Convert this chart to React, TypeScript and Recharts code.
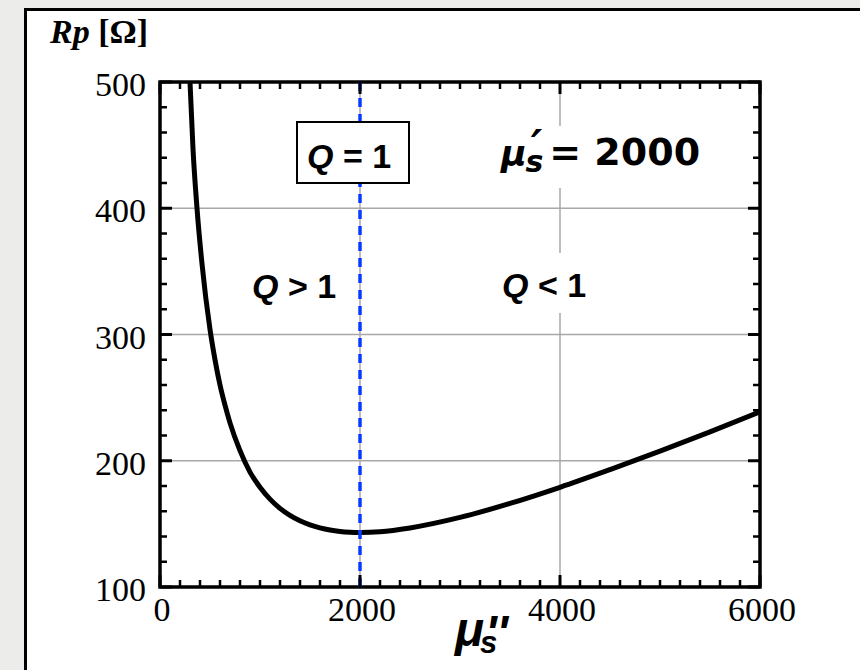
import React from "react";
import {
  LineChart,
  Line,
  XAxis,
  YAxis,
  ReferenceLine,
  ReferenceArea,
} from "recharts";

// values (mu_s'' vs Rp in ohm)
const muValues = [300, 330, 370, 420, 500, 550, 600, 650, 700, 800, 900, 1000, 1100, 1200, 1300, 1400, 1500, 1600, 1700, 1800, 1900, 2000, 2200, 2500, 3000, 3500, 4000, 4500, 5000, 5500, 6000];
const rpValues = [500, 447, 400, 356, 304, 280, 260, 244, 230, 208, 191, 179, 169.6, 162.3, 156.7, 152.4, 149.2, 146.8, 145.1, 144, 143.4, 143.2, 143.8, 146.8, 155.1, 166.2, 179, 193, 207.6, 222.9, 238.7];

const xLabelTicks = [0, 2000, 4000, 6000];
const yLabelTicks = [100, 200, 300, 400, 500];
const xGrid = [2000, 4000];
const yGrid = [200, 300, 400];
const qEqualsOne = 2000;

const xMinorTicks = Array.from({ length: 31 }, (_, i) => i * 200);
const yMinorTicks = Array.from({ length: 21 }, (_, i) => 100 + i * 20);

const data = muValues.map((mu, i) => ({ mu, rp: rpValues[i] }));

const W = 860;
const H = 670;
const Y_AXIS_W = 60;
const X_AXIS_H = 40;
const M = { top: 82, right: 100, bottom: 83 - X_AXIS_H, left: 160 - Y_AXIS_W };
const PLOT_W = 600;
const PLOT_H = 505;

const serif = "Liberation Serif";
const sans = "Liberation Sans";
const dejavu = "DejaVu Sans";

const XTick = (props: any) => {
  const { x, y, payload } = props;
  const v = payload.value;
  const major = xLabelTicks.includes(v);
  const len = major ? 12 : 7;
  const sw = major ? 3 : 2.5;
  return (
    <g>
      <line x1={x} x2={x} y1={y} y2={y - len} stroke="#000" strokeWidth={sw} />
      <line x1={x} x2={x} y1={y - PLOT_H} y2={y - PLOT_H + len} stroke="#000" strokeWidth={sw} />
      {major && (
        <text x={x + 2} y={y + 34} textAnchor="middle" fontFamily={serif} fontSize={34} fill="#000">
          {v}
        </text>
      )}
    </g>
  );
};

const YTick = (props: any) => {
  const { x, y, payload } = props;
  const v = payload.value;
  const major = yLabelTicks.includes(v);
  const len = major ? 12 : 7;
  const sw = major ? 3 : 2.5;
  return (
    <g>
      <line x1={x} x2={x + len} y1={y} y2={y} stroke="#000" strokeWidth={sw} />
      <line x1={x + PLOT_W} x2={x + PLOT_W - len} y1={y} y2={y} stroke="#000" strokeWidth={sw} />
      {major && (
        <text x={x - 14} y={y + 14} textAnchor="end" fontFamily={serif} fontSize={34} fill="#000">
          {v}
        </text>
      )}
    </g>
  );
};

export default function App() {
  return (
    <div
      style={{
        position: "absolute",
        left: 0,
        top: 0,
        width: W,
        height: H,
        background: "#ececea",
        overflow: "hidden",
      }}
    >
      <div
        style={{
          position: "absolute",
          left: 24,
          top: 8,
          width: 900,
          height: 700,
          background: "#fff",
          border: "3px solid #000",
        }}
      />
      <div style={{ position: "absolute", left: 0, top: 0 }}>
        <LineChart width={W} height={H} data={data} margin={M}>
          <XAxis
            type="number"
            dataKey="mu"
            domain={[0, 6000]}
            ticks={xMinorTicks}
            interval={0}
            axisLine={false}
            tickLine={false}
            tickSize={0}
            tickMargin={0}
            height={X_AXIS_H}
            tick={(p: any) => <XTick {...p} />}
            allowDataOverflow
          />
          <YAxis
            type="number"
            domain={[100, 500]}
            ticks={yMinorTicks}
            interval={0}
            axisLine={false}
            tickLine={false}
            tickSize={0}
            tickMargin={0}
            width={Y_AXIS_W}
            tick={(p: any) => <YTick {...p} />}
            allowDataOverflow
          />
          {xGrid.map((v) => (
            <ReferenceLine key={`gx${v}`} x={v} stroke="#a8a8a8" strokeWidth={1.5} />
          ))}
          {yGrid.map((v) => (
            <ReferenceLine key={`gy${v}`} y={v} stroke="#a8a8a8" strokeWidth={1.5} />
          ))}
          <Line
            type="monotone"
            dataKey="rp"
            stroke="#000"
            strokeWidth={5}
            dot={false}
            isAnimationActive={false}
          />
          <ReferenceLine
            x={qEqualsOne}
            stroke="#0a3cff"
            strokeWidth={3.5}
            strokeDasharray="9 7"
          />
          <ReferenceArea
            x1={0}
            x2={6000}
            y1={100}
            y2={500}
            fill="none"
            fillOpacity={0}
            stroke="#000"
            strokeWidth={3.5}
            strokeOpacity={1}
          />
        </LineChart>
      </div>
      <svg
        width={W}
        height={H}
        style={{ position: "absolute", left: 0, top: 0, pointerEvents: "none" }}
      >
        {/* white backing behind the labels */}
        <rect x={495} y={126} width={212} height={62} fill="#fff" />
        <rect x={498} y={253} width={102} height={60} fill="#fff" />
        <rect x={248} y={253} width={98} height={60} fill="#fff" />

        {/* Q = 1 box */}
        <rect x={297} y={122} width={112} height={61} fill="#fff" stroke="#000" strokeWidth={2} />
        <text x={307} y={168} fontFamily={sans} fontWeight="bold" fontSize={34} fill="#000">
          <tspan fontStyle="italic">Q</tspan>
          <tspan> = 1</tspan>
        </text>

        <text x={252} y={298} fontFamily={sans} fontWeight="bold" fontSize={34} fill="#000">
          <tspan fontStyle="italic">Q</tspan>
          <tspan> &gt; 1</tspan>
        </text>
        <text x={502} y={297} fontFamily={sans} fontWeight="bold" fontSize={34} fill="#000">
          <tspan fontStyle="italic">Q</tspan>
          <tspan> &lt; 1</tspan>
        </text>

        {/* mu_s' = 2000 */}
        <text x={501} y={166} fontFamily={dejavu} fontWeight="bold" fontStyle="italic" fontSize={35} fill="#000">
          μ
          <tspan dx={4} dy={-4} fontSize={44}>′</tspan>
          <tspan dx={-17} dy={10} fontSize={30}>s</tspan>
          <tspan dx={6} dy={-7} fontSize={38} fontStyle="normal">= 2000</tspan>
        </text>

        {/* y axis title */}
        <text x={50} y={43} fontFamily={serif} fontWeight="bold" fontSize={34} fill="#000">
          <tspan fontStyle="italic">Rp</tspan>
          <tspan> [Ω]</tspan>
        </text>

        {/* x axis title mu_s'' */}
        <text x={455} y={646} fontFamily={sans} fontWeight="bold" fontStyle="italic" fontSize={48} fill="#000">
          μ
          <tspan dx={-4} dy={7} fontSize={31}>s</tspan>
          <tspan dx={-12} dy={-4} fontSize={48}>''</tspan>
        </text>
      </svg>
    </div>
  );
}
